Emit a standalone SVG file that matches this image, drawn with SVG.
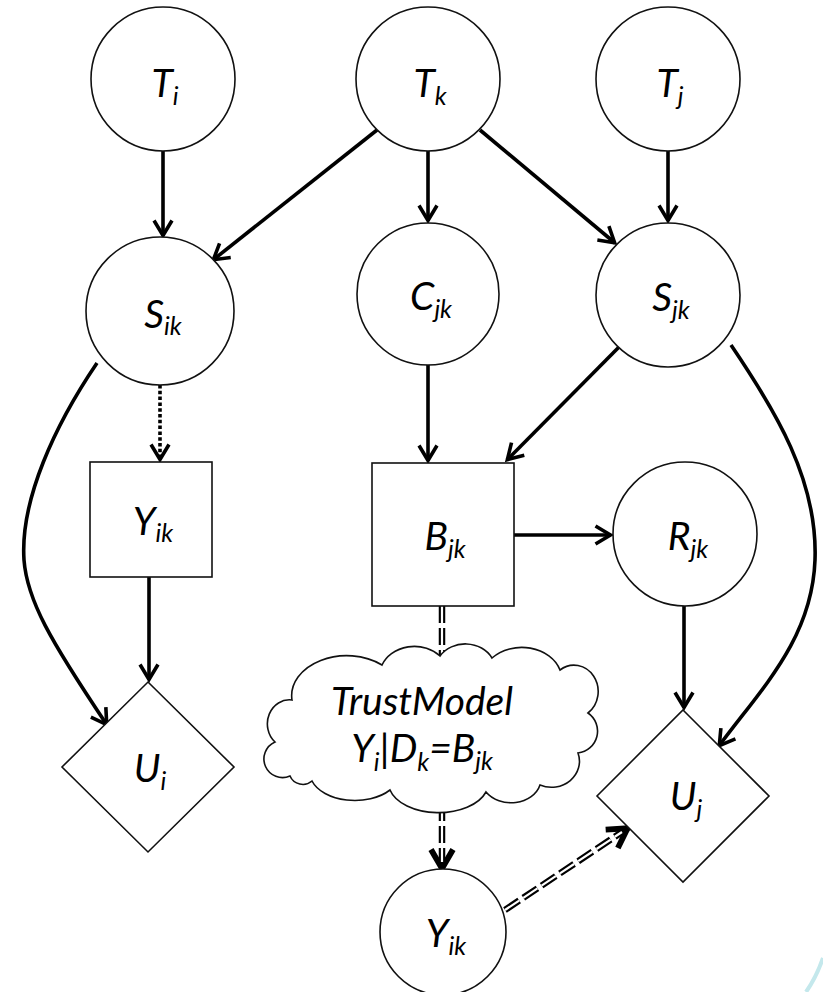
<svg xmlns="http://www.w3.org/2000/svg" width="823" height="992" viewBox="0 0 823 992">
  <defs>
    <style>
      .node { fill: #ffffff; stroke: #111111; stroke-width: 1.6; }
      .lbl { font-family: Lato, "Open Sans", "Liberation Sans", sans-serif; font-style: italic; font-size: 39px; fill: #000000; }
      .sub { font-size: 25px; }
      .edge { fill: none; stroke: #000000; stroke-width: 3.6; }
      .dotted { stroke-dasharray: 3.5 2.3; }
      .dbl { fill: none; stroke: #000000; stroke-width: 6.5; stroke-dasharray: 17 5; }
      .dbl-core { fill: none; stroke: #ffffff; stroke-width: 2.2; stroke-dasharray: 17 5; }
    </style>
    <marker id="arrow" viewBox="-18 -12 22 24" refX="0.5" refY="0" markerWidth="22" markerHeight="24" markerUnits="userSpaceOnUse" orient="auto">
      <path d="M-15,-9 L0,0 L-15,9" fill="none" stroke="#000" stroke-width="3.6"/>
    </marker>
    <marker id="arrow-big" viewBox="-24 -15 28 30" refX="0.5" refY="0" markerWidth="28" markerHeight="30" markerUnits="userSpaceOnUse" orient="auto">
      <path d="M-19,-11 L0,0 L-19,11" fill="none" stroke="#000" stroke-width="5.8"/>
    </marker>
  </defs>

  <!-- connectors -->
  <g id="edges">
    <path class="edge" d="M163,151 L163,236" marker-end="url(#arrow)"/>
    <path class="edge" d="M377,130 L213,260" marker-end="url(#arrow)"/>
    <path class="edge" d="M428,151 L428,221" marker-end="url(#arrow)"/>
    <path class="edge" d="M480,130 L615,243" marker-end="url(#arrow)"/>
    <path class="edge" d="M668,151 L668,221" marker-end="url(#arrow)"/>
    <path class="edge dotted" d="M160,385 L160,460" marker-end="url(#arrow)"/>
    <path class="edge" d="M97,363 C55,425 20,500 24,560 C27,600 50,640 107,725" marker-end="url(#arrow)"/>
    <path class="edge" d="M149,577 L149,680" marker-end="url(#arrow)"/>
    <path class="edge" d="M428,365 L428,461" marker-end="url(#arrow)"/>
    <path class="edge" d="M620,346 L507,460" marker-end="url(#arrow)"/>
    <path class="edge" d="M731,345 C775,410 818,480 815,560 C812,640 760,690 719,746" marker-end="url(#arrow)"/>
    <path class="edge" d="M514,535 L611,535" marker-end="url(#arrow)"/>
    <path class="edge" d="M684,606 L684,708" marker-end="url(#arrow)"/>
    <!-- double dashed links through the trust model -->
    <path class="dbl" d="M442,606 L442,658"/>
    <path class="dbl-core" d="M442,606 L442,658"/>
    <path class="dbl" d="M442,804 L442,869" marker-end="url(#arrow-big)"/>
    <path class="dbl-core" d="M442,804 L442,862"/>
    <path class="dbl" d="M505,910 L628,828" marker-end="url(#arrow-big)"/>
    <path class="dbl-core" d="M505,910 L622,832"/>
  </g>

  <g id="T_i">
    <circle class="node" cx="163" cy="79" r="72"/>
    <text class="lbl" x="165" y="97" text-anchor="middle">T<tspan class="sub" dy="8">i</tspan></text>
  </g>
  <g id="T_k">
    <circle class="node" cx="428" cy="79" r="72"/>
    <text class="lbl" x="430" y="97" text-anchor="middle">T<tspan class="sub" dy="8">k</tspan></text>
  </g>
  <g id="T_j">
    <circle class="node" cx="668" cy="79" r="72"/>
    <text class="lbl" x="670" y="97" text-anchor="middle">T<tspan class="sub" dy="8">j</tspan></text>
  </g>
  <g id="S_ik">
    <circle class="node" cx="160" cy="311" r="74"/>
    <text class="lbl" x="163" y="328" text-anchor="middle">S<tspan class="sub" dy="7">ik</tspan></text>
  </g>
  <g id="C_jk">
    <circle class="node" cx="428" cy="294" r="71"/>
    <text class="lbl" x="431" y="310" text-anchor="middle">C<tspan class="sub" dy="8">jk</tspan></text>
  </g>
  <g id="S_jk">
    <circle class="node" cx="668" cy="295" r="72"/>
    <text class="lbl" x="671" y="311" text-anchor="middle">S<tspan class="sub" dy="8">jk</tspan></text>
  </g>
  <g id="Y_ik_box">
    <rect class="node" x="90" y="462" width="122" height="115"/>
    <text class="lbl" x="153" y="535" text-anchor="middle">Y<tspan class="sub" dy="7">ik</tspan></text>
  </g>
  <g id="B_jk">
    <rect class="node" x="372" y="463" width="142" height="143"/>
    <text class="lbl" x="445" y="550" text-anchor="middle">B<tspan class="sub" dy="8">jk</tspan></text>
  </g>
  <g id="R_jk">
    <circle class="node" cx="685" cy="534" r="72"/>
    <text class="lbl" x="688" y="550" text-anchor="middle">R<tspan class="sub" dy="8">jk</tspan></text>
  </g>
  <g id="U_i">
    <polygon class="node" points="148,682 234,767 148,852 62,767"/>
    <text class="lbl" x="150" y="782" text-anchor="middle">U<tspan class="sub" dy="8">i</tspan></text>
  </g>
  <g id="U_j">
    <polygon class="node" points="683,710 769,796 683,882 597,796"/>
    <text class="lbl" x="686" y="810" text-anchor="middle">U<tspan class="sub" dy="8">j</tspan></text>
  </g>
  <g id="TrustModel">
    <path class="node" d="M290,776 A18,18 0 0 1 275,742 A22,24 0 0 1 292,700 A55,40 0 0 1 382,665 A35,30 0 0 1 440,656 A30,26 0 0 1 492,658 A40,32 0 0 1 560,670 A22,24 0 0 1 588,713 A22,22 0 0 1 578,753 A28,26 0 0 1 540,785 A30,24 0 0 1 486,792 A50,30 0 0 1 390,790 A45,28 0 0 1 312,781 A14,14 0 0 1 290,776 Z"/>
    <text class="lbl" x="422" y="715" text-anchor="middle">TrustModel</text>
    <text class="lbl" x="422" y="762" text-anchor="middle">Y<tspan class="sub" dy="9">i</tspan><tspan dy="-9">|D</tspan><tspan class="sub" dy="9">k</tspan><tspan dy="-9">=B</tspan><tspan class="sub" dy="8">jk</tspan></text>
  </g>
  <g id="Y_ik">
    <circle class="node" cx="443" cy="932" r="63"/>
    <text class="lbl" x="446" y="947" text-anchor="middle">Y<tspan class="sub" dy="8">ik</tspan></text>
  </g>

  <!-- page edge tint in the corner -->
  <path d="M806,992 Q816,978 823,958" fill="none" stroke="#c4e8ec" stroke-width="4"/>
</svg>
